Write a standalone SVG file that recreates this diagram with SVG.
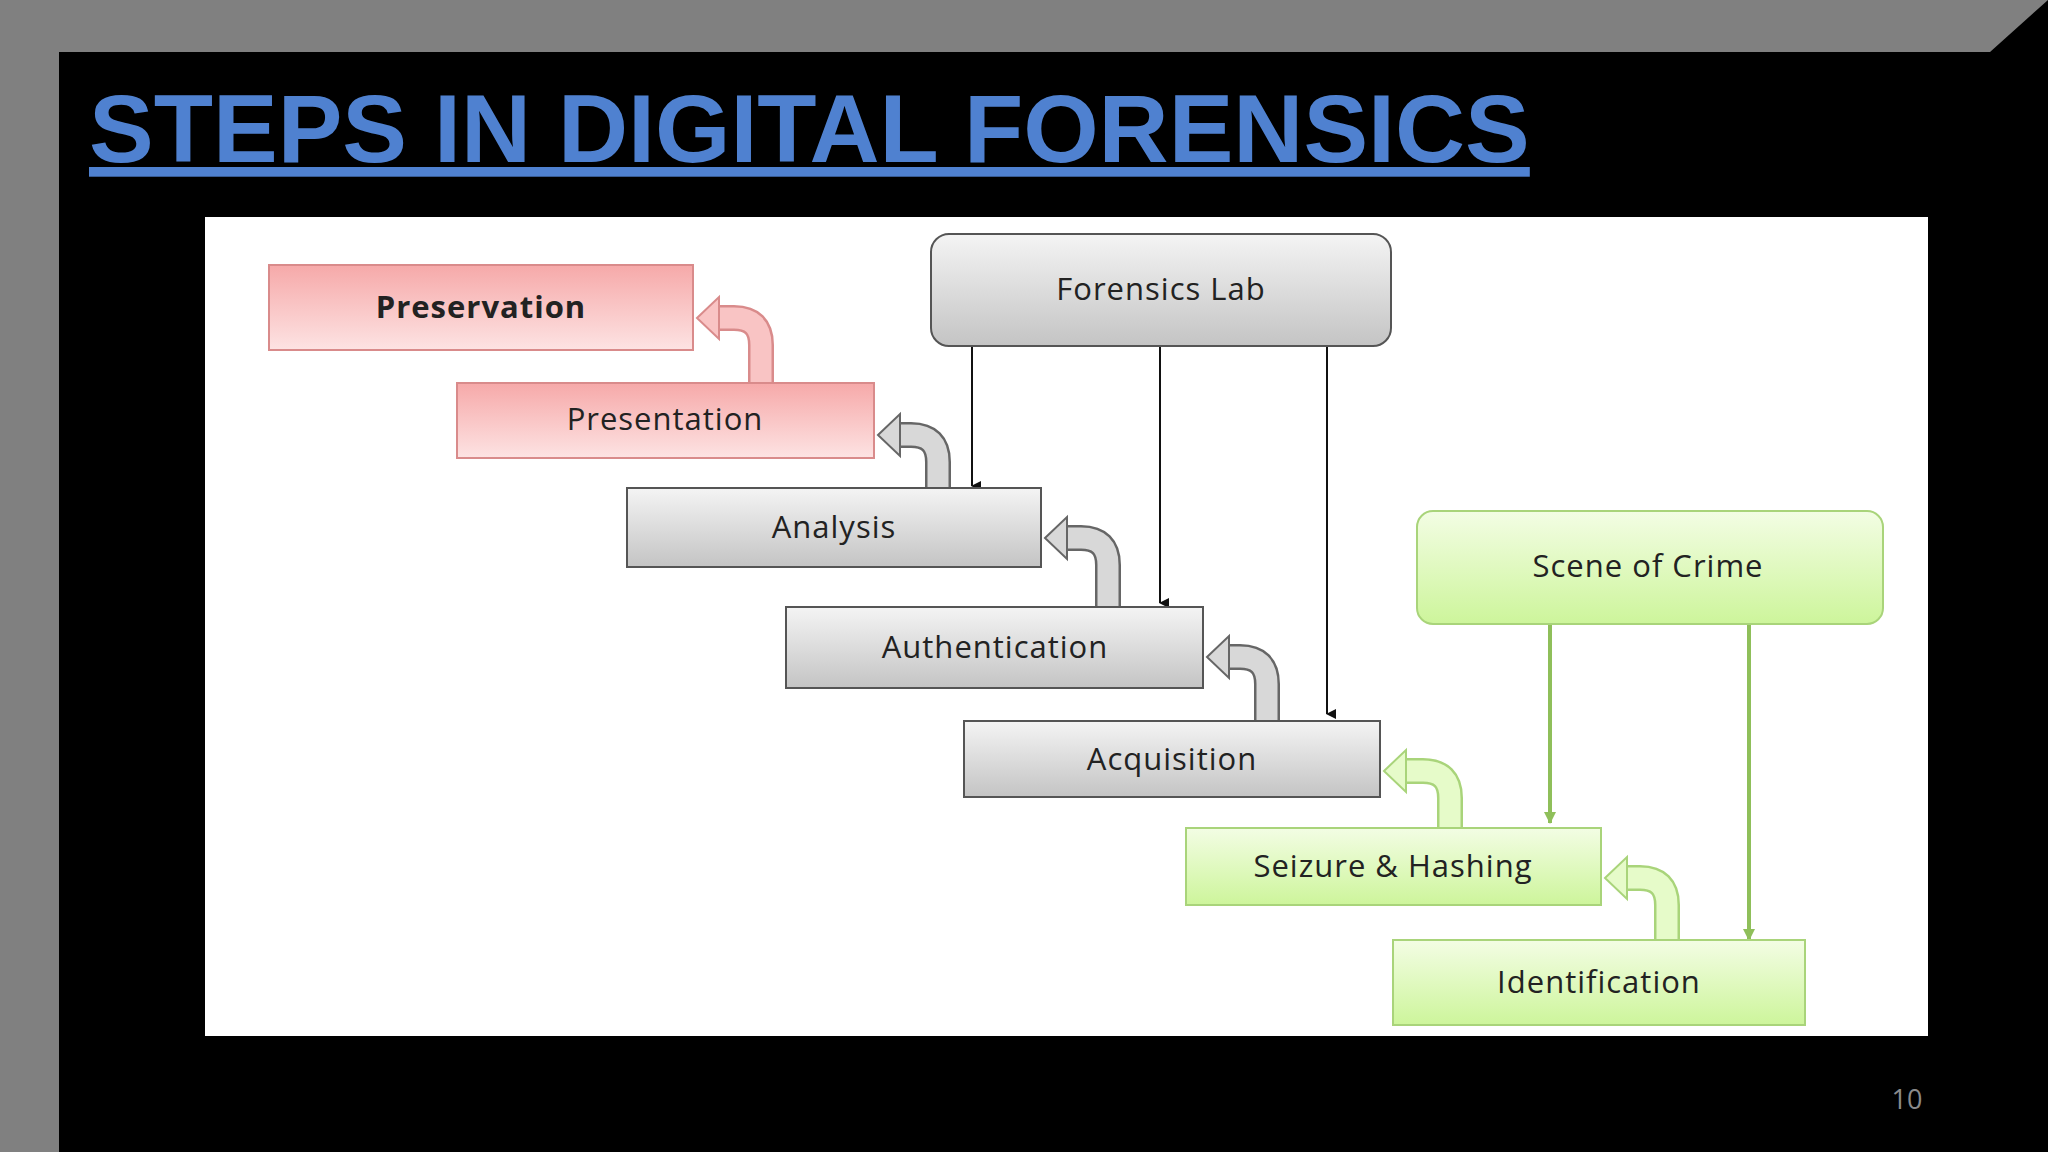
<svg xmlns="http://www.w3.org/2000/svg" width="2048" height="1152" viewBox="0 0 2048 1152">
<defs>
<linearGradient id="gp" x1="0" y1="0" x2="0" y2="1"><stop offset="0" stop-color="#f6a9a9"/><stop offset="1" stop-color="#fde3e3"/></linearGradient>
<linearGradient id="gg" x1="0" y1="0" x2="0" y2="1"><stop offset="0" stop-color="#f4f4f4"/><stop offset="1" stop-color="#c4c4c4"/></linearGradient>
<linearGradient id="gn" x1="0" y1="0" x2="0" y2="1"><stop offset="0" stop-color="#f3fde4"/><stop offset="1" stop-color="#cdf59b"/></linearGradient>
<marker id="ah" markerWidth="10" markerHeight="10" refX="5" refY="9" orient="auto" markerUnits="userSpaceOnUse"><path d="M0,0 L10,0 L5,10 z" fill="#111" transform="rotate(0)"/></marker>
<marker id="ahg" markerWidth="12" markerHeight="12" refX="6" refY="11" markerUnits="userSpaceOnUse"><path d="M0,0 L12,0 L6,12 z" fill="#8fbf5a"/></marker>
</defs>
<style>
.t{font-family:"Open Sans","Noto Sans",sans-serif;font-size:31px;fill:#222;text-anchor:middle;letter-spacing:1px}
.bp{stroke:#d98b8b;stroke-width:2}
.bg{stroke:#555;stroke-width:2}
.bn{stroke:#a9d47a;stroke-width:2}
.ln{stroke:#111;stroke-width:2;fill:none}
.lg{stroke:#8fbf5a;stroke-width:4;fill:none}
</style>
<rect width="2048" height="1152" fill="#808080"/>
<polygon points="59,52 1990,52 2048,0 2048,1152 59,1152" fill="#000"/>
<text x="89" y="162" font-family="Liberation Sans,Arial,sans-serif" font-weight="bold" font-size="97" fill="#4f81d0" text-decoration="underline">STEPS IN DIGITAL FORENSICS</text>
<rect x="205" y="217" width="1723" height="819" fill="#fff"/>
<g id="connectors">
<line class="ln" x1="972" y1="346" x2="972" y2="486" marker-end="url(#ah)"/>
<line class="ln" x1="1160" y1="346" x2="1160" y2="603" marker-end="url(#ah)"/>
<line class="ln" x1="1327" y1="346" x2="1327" y2="714" marker-end="url(#ah)"/>
<line class="lg" x1="1550" y1="624" x2="1550" y2="823" marker-end="url(#ahg)"/>
<line class="lg" x1="1749" y1="624" x2="1749" y2="940" marker-end="url(#ahg)"/>
<g id="arr-pink">
<path d="M761,383 V345 Q761,318 734,318 H715" fill="none" stroke="#d98b8b" stroke-width="26"/>
<path d="M761,383 V345 Q761,318 734,318 H715" fill="none" stroke="#f9c4c4" stroke-width="21"/>
<polygon points="697,318 719,297 719,339" fill="#f9c4c4" stroke="#d98b8b" stroke-width="2"/>
</g>
<g id="arr-gray" fill="none">
<path d="M938,488 V462 Q938,435 911,435 H896" stroke="#666" stroke-width="26"/>
<path d="M938,488 V462 Q938,435 911,435 H896" stroke="#d8d8d8" stroke-width="21"/>
<polygon points="878,435 900,414 900,456" fill="#d8d8d8" stroke="#666" stroke-width="2"/>
<path d="M1108,607 V565 Q1108,538 1081,538 H1063" stroke="#666" stroke-width="26"/>
<path d="M1108,607 V565 Q1108,538 1081,538 H1063" stroke="#d8d8d8" stroke-width="21"/>
<polygon points="1045,538 1067,517 1067,559" fill="#d8d8d8" stroke="#666" stroke-width="2"/>
<path d="M1267,721 V684 Q1267,657 1240,657 H1225" stroke="#666" stroke-width="26"/>
<path d="M1267,721 V684 Q1267,657 1240,657 H1225" stroke="#d8d8d8" stroke-width="21"/>
<polygon points="1207,657 1229,636 1229,678" fill="#d8d8d8" stroke="#666" stroke-width="2"/>
</g>
<g id="arr-green" fill="none">
<path d="M1450,828 V798 Q1450,771 1423,771 H1402" stroke="#a9d47a" stroke-width="26"/>
<path d="M1450,828 V798 Q1450,771 1423,771 H1402" stroke="#e6fbc9" stroke-width="21"/>
<polygon points="1384,771 1406,750 1406,792" fill="#e6fbc9" stroke="#a9d47a" stroke-width="2"/>
<path d="M1667,940 V905 Q1667,878 1640,878 H1623" stroke="#a9d47a" stroke-width="26"/>
<path d="M1667,940 V905 Q1667,878 1640,878 H1623" stroke="#e6fbc9" stroke-width="21"/>
<polygon points="1605,878 1627,857 1627,899" fill="#e6fbc9" stroke="#a9d47a" stroke-width="2"/>
</g>
</g>
<g id="preservation"><rect x="269" y="265" width="424" height="85" fill="url(#gp)" class="bp"/><text class="t" x="481" y="318" font-weight="bold">Preservation</text></g>
<g id="presentation"><rect x="457" y="383" width="417" height="75" fill="url(#gp)" class="bp"/><text class="t" x="665" y="430">Presentation</text></g>
<g id="analysis"><rect x="627" y="488" width="414" height="79" fill="url(#gg)" class="bg"/><text class="t" x="834" y="538">Analysis</text></g>
<g id="authentication"><rect x="786" y="607" width="417" height="81" fill="url(#gg)" class="bg"/><text class="t" x="995" y="658">Authentication</text></g>
<g id="acquisition"><rect x="964" y="721" width="416" height="76" fill="url(#gg)" class="bg"/><text class="t" x="1172" y="770">Acquisition</text></g>
<g id="seizure"><rect x="1186" y="828" width="415" height="77" fill="url(#gn)" class="bn"/><text class="t" x="1393" y="877">Seizure &amp; Hashing</text></g>
<g id="identification"><rect x="1393" y="940" width="412" height="85" fill="url(#gn)" class="bn"/><text class="t" x="1599" y="993">Identification</text></g>
<g id="forensics-lab"><rect x="931" y="234" width="460" height="112" rx="18" fill="url(#gg)" stroke="#555" stroke-width="2"/><text class="t" x="1161" y="300">Forensics Lab</text></g>
<g id="scene-of-crime"><rect x="1417" y="511" width="466" height="113" rx="16" fill="url(#gn)" class="bn"/><text class="t" x="1648" y="577">Scene of Crime</text></g>
<text x="1907" y="1109" font-family="Open Sans,sans-serif" font-size="27" fill="#8a8a8a" text-anchor="middle">10</text>
</svg>
